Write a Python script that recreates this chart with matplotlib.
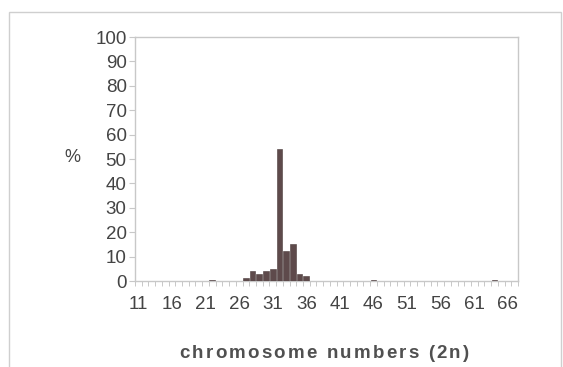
import matplotlib
matplotlib.use("Agg")
import matplotlib.pyplot as plt
from matplotlib.patches import Rectangle
import numpy as np

plt.rcParams["font.family"] = ["Liberation Sans", "DejaVu Sans"]

# Karyotype frequency distribution
chromosome_numbers = [22, 27, 28, 29, 30, 31, 32, 33, 34, 35, 36, 46, 64]
percent = [0.5, 1.2, 4.2, 3.0, 4.0, 5.0, 54.0, 12.5, 15.0, 2.8, 2.2, 0.5, 0.5]
category_range = (11, 67)
tick_labels = list(range(11, 67, 5))
y_ticks = list(range(0, 101, 10))
x_title = "chromosome numbers (2n)"

W, H = 563, 367
fig = plt.figure(figsize=(W / 100, H / 100), dpi=100)
fig.patch.set_facecolor("white")

# outer chart border
fig.add_artist(Rectangle((9 / W, -0.01), 552 / W, 1 - 12 / H + 0.01,
                         transform=fig.transFigure, fill=False,
                         edgecolor="#cfcfcf", linewidth=1.0))

ax = fig.add_axes([135 / W, 1 - 281 / H, 383 / W, 244 / H])
ax.bar(chromosome_numbers, percent, width=0.85, color="#5e4a4b",
       edgecolor="#4a3a3b", linewidth=0.4, zorder=3)

ax.set_xlim(category_range[0] - 0.5, category_range[1] + 0.5)
ax.set_ylim(0, 100)
ax.set_yticks(y_ticks)
ax.set_xticks(tick_labels)
ax.set_xticks(np.arange(category_range[0] - 0.5, category_range[1] + 1), minor=True)

for s in ax.spines.values():
    s.set_color("#c8c8c8")
    s.set_linewidth(1.0)

ax.tick_params(axis="y", which="major", length=4, width=0.8, color="#c8c8c8",
               labelsize=13.5, labelcolor="#444444", pad=2)
ax.tick_params(axis="x", which="major", length=0, labelsize=13.5,
               labelcolor="#444444", pad=11)
ax.tick_params(axis="x", which="minor", length=3.5, width=0.7, color="#c8c8c8")

fig.text(72 / W, 1 - 158 / H, "%", ha="center", va="center",
         fontsize=13, color="#444444")

# axis title with widened letter spacing
renderer = fig.canvas.get_renderer()
chars = []
for ch in x_title:
    t = fig.text(0, 1 - 353 / H, ch, ha="left", va="center", fontsize=13.5,
                 fontweight="bold", color="#505050")
    chars.append(t)
extra = 2.2
widths = []
for t in chars:
    if t.get_text() == " ":
        widths.append(5.5)
    else:
        widths.append(t.get_window_extent(renderer).width)
total = sum(widths) + extra * (len(chars) - 1)
x = 324 - total / 2
for t, w in zip(chars, widths):
    t.set_x(x / W)
    x += w + extra

fig.savefig("out.png", dpi=100, facecolor="white")
